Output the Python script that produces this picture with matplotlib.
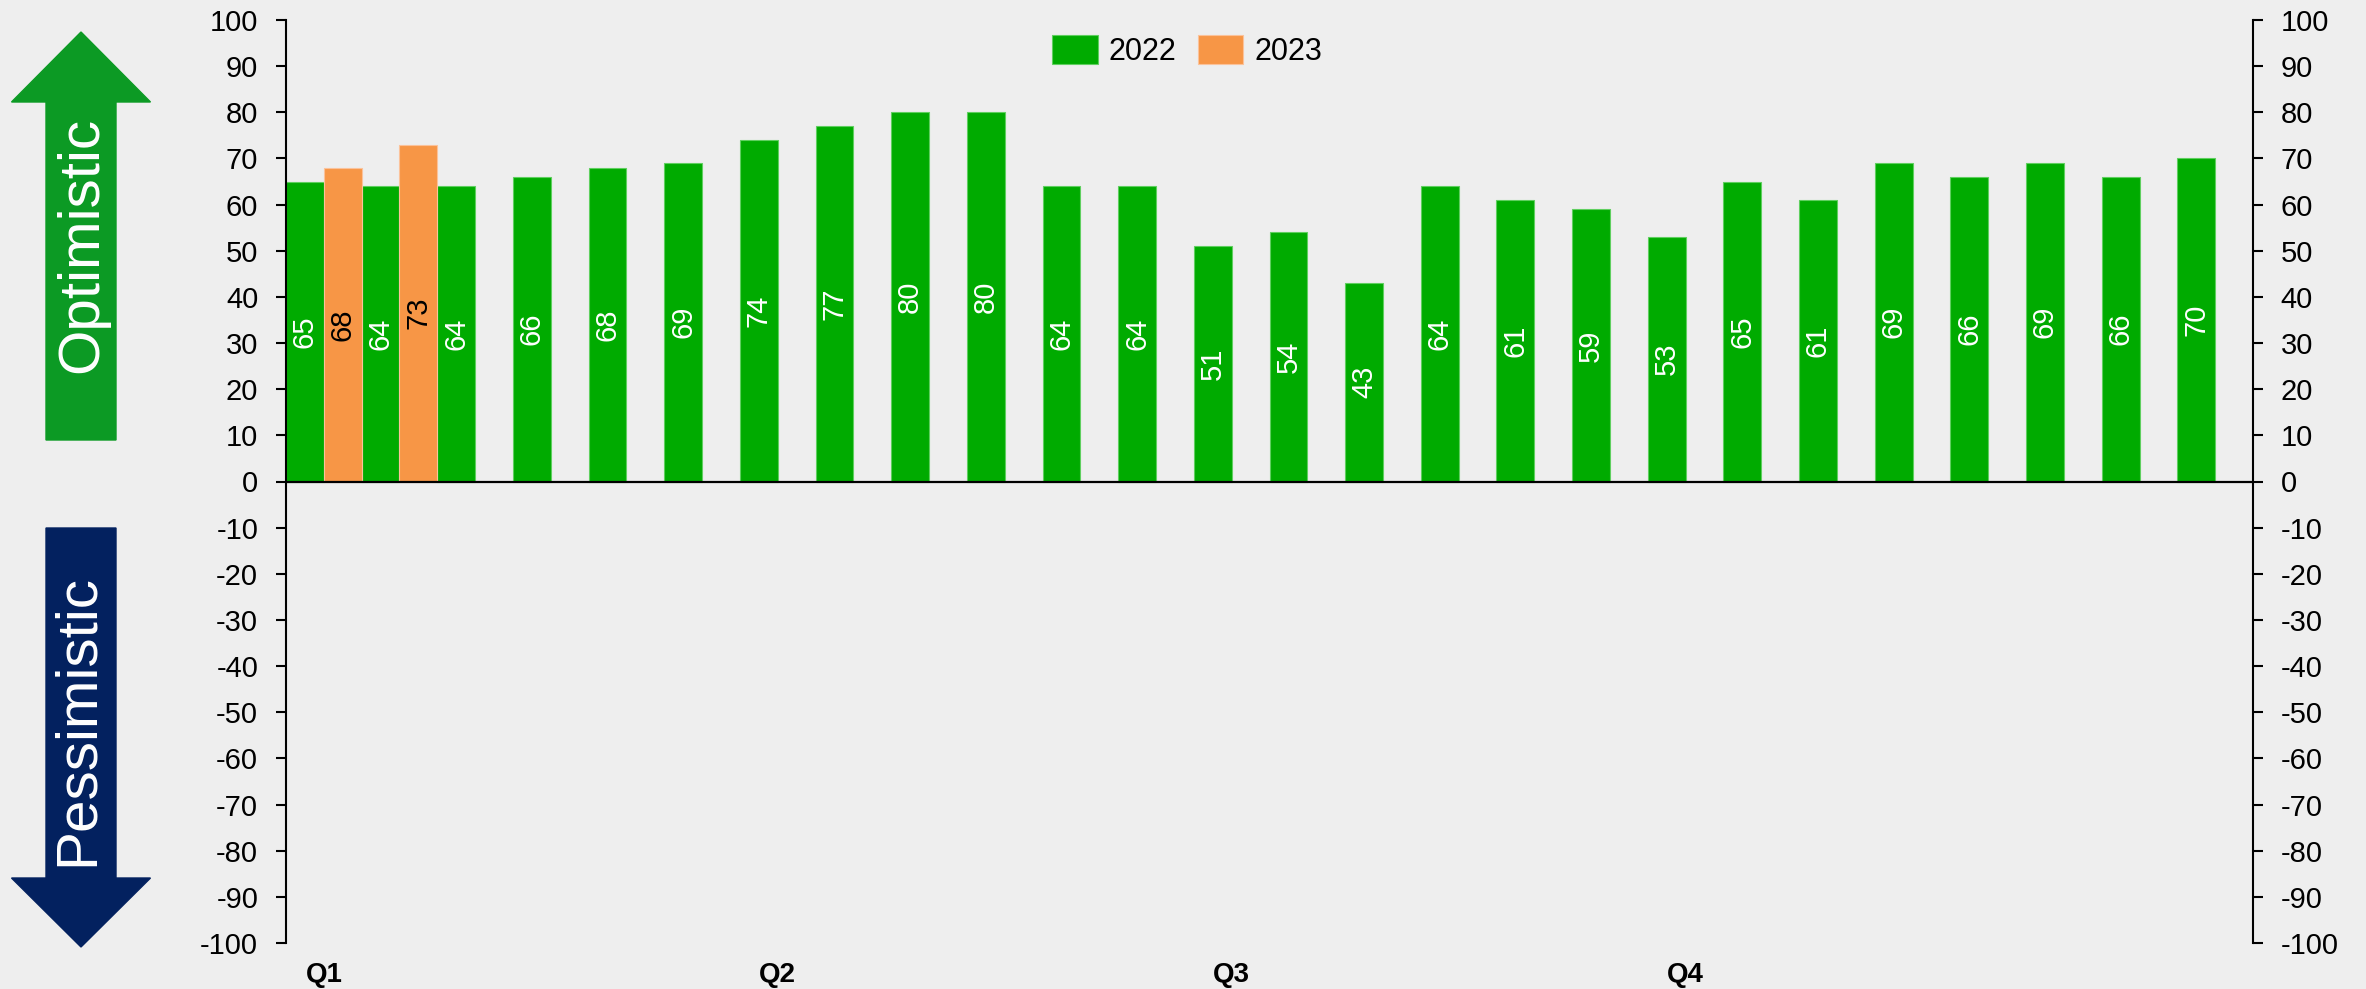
import matplotlib.pyplot as plt
import numpy as np
from matplotlib.patches import FancyArrow

plt.rcParams['font.family'] = ['Liberation Sans', 'DejaVu Sans']

# weekly readings
vals_2022 = [65, 64, 64, 66, 68, 69, 74, 77, 80, 80, 64, 64, 51, 54, 43,
             64, 61, 59, 53, 65, 61, 69, 66, 69, 66, 70]
vals_2023 = [68, 73]
quarter_labels = ['Q1', 'Q2', 'Q3', 'Q4']
quarter_slots = [0, 6, 12, 18]
yticks = list(range(-100, 101, 10))

bg = '#eeeeee'
green = '#00ab00'
orange = '#f79646'

fig = plt.figure(figsize=(23.66, 9.89), dpi=100, facecolor=bg)
ax = fig.add_axes([286 / 2366, 1 - 943 / 989, (2253 - 286) / 2366, (943 - 20) / 989])
ax.set_facecolor(bg)

x = np.arange(len(vals_2022))
b1 = ax.bar(x + 0.25, vals_2022, width=0.5, color=green, edgecolor='#5fcf5f',
            linewidth=0.8, label='2022')
x2 = np.arange(len(vals_2023))
b2 = ax.bar(x2 + 0.75, vals_2023, width=0.5, color=orange, edgecolor='#fbc29a',
            linewidth=0.8, label='2023')

ax.bar_label(b1, label_type='center', rotation=90, color='white', fontsize=21)
ax.bar_label(b2, label_type='center', rotation=90, color='black', fontsize=21)

ax.axhline(0, color='black', lw=1.6, zorder=3)
ax.set_xlim(0, len(vals_2022))
ax.set_ylim(-100, 100)
ax.set_yticks(yticks)
ax.set_yticklabels([str(v) for v in yticks])
ax.tick_params(axis='y', direction='out', length=7, width=1.5, labelsize=21,
               right=True, labelright=True, pad=13)
ax.set_xticks([q + 0.5 for q in quarter_slots])
ax.set_xticklabels(quarter_labels, fontweight='bold', fontsize=20)
ax.tick_params(axis='x', length=0, pad=14)
for s in ['top', 'bottom']:
    ax.spines[s].set_visible(False)
for s in ['left', 'right']:
    ax.spines[s].set_linewidth(1.5)

fig.legend(loc='center', bbox_to_anchor=(1187 / 2366, 1 - 51 / 989), ncol=2,
           frameon=False, fontsize=22, handlelength=1.5, handleheight=1.1,
           handletextpad=0.35, columnspacing=0.7)

# direction arrows on the left
W, H = 2366, 989
def fx(px):
    return px / W
def fy(py):
    return 1 - py / H

up = FancyArrow(fx(81), fy(440), 0, fy(32) - fy(440), width=fx(116) - fx(46),
                head_width=fx(151) - fx(12), head_length=fy(32) - fy(102),
                length_includes_head=True, color='#0c9a24', transform=fig.transFigure)
down = FancyArrow(fx(81), fy(528), 0, fy(947) - fy(528), width=fx(116) - fx(46),
                  head_width=fx(151) - fx(12), head_length=fy(878) - fy(947),
                  length_includes_head=True, color='#03215f', transform=fig.transFigure)
fig.patches.extend([up, down])
fig.text(fx(82), fy(245), 'Optimistic', rotation=90, color='white', fontsize=42,
         ha='center', va='center')
fig.text(fx(78), fy(720), 'Pessimistic', rotation=90, color='white', fontsize=42,
         ha='center', va='center')

fig.savefig('out.png', dpi=100, facecolor=bg)
